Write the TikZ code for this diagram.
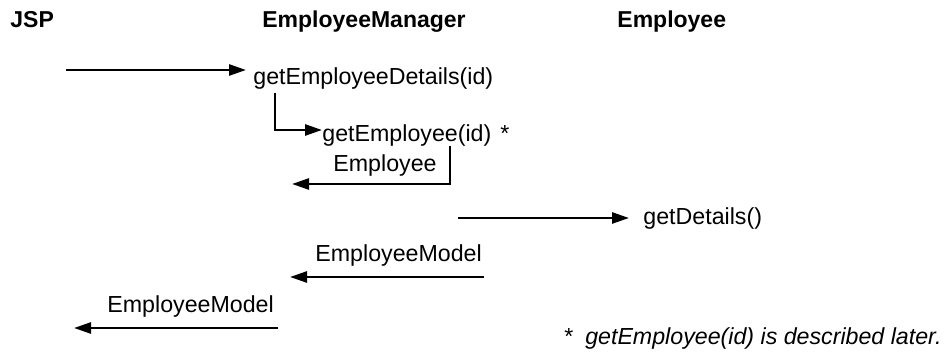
\documentclass[tikz,border=0pt]{standalone}
\usepackage{fontspec}
\setmainfont{Liberation Sans}
\usetikzlibrary{arrows.meta}
\begin{document}
\begin{tikzpicture}[x=0.5pt,y=-0.5pt,
    lbl/.style={inner sep=0pt,anchor=base west,font=\fontsize{11.6}{14}\selectfont},
    head/.style={lbl,font=\fontsize{11.5}{14}\selectfont\bfseries},
    msg/.style={line width=1.3pt,-{Triangle[length=8.5pt,width=5.5pt]}}]
    \useasboundingbox (0,0) rectangle (945,356);

    \node[head] (jsp) at (10,28) {JSP};
    \node[head] (mgr) at (262,28) {EmployeeManager};
    \node[head] (emp) at (617,28) {Employee};

    \node[lbl] (details) at (253,85) {getEmployeeDetails(id)};
    \node[lbl] (getemp) at (322,142) {getEmployee(id)\hspace{4.5pt}*};
    \node[lbl] (empret) at (333,172) {Employee};
    \node[lbl] (getdet) at (643,225) {getDetails()};
    \node[lbl] (model) at (315,262) {EmployeeModel};
    \node[lbl] (modelret) at (107,313) {EmployeeModel};
    \node[lbl,anchor=base east,font=\fontsize{11.6}{14}\selectfont\itshape] (note) at (942,345) {*\ \ getEmployee(id) is described later.};

    \coordinate (c1) at (66,70);
    \coordinate (c2) at (246,70);
    \coordinate (c3) at (275,93);
    \coordinate (c4) at (322,130);
    \coordinate (c5) at (450,146);
    \coordinate (c6) at (292,184);
    \coordinate (c7) at (458,218);
    \coordinate (c8) at (629,218);
    \coordinate (c9) at (484,277);
    \coordinate (c10) at (290,277);
    \coordinate (c11) at (278,328);
    \coordinate (c12) at (74,328);

    \draw[msg] (c1) -- (c2);
    \draw[msg] (c3) |- (c4);
    \draw[msg] (c5) |- (c6);
    \draw[msg] (c7) -- (c8);
    \draw[msg] (c9) -- (c10);
    \draw[msg] (c11) -- (c12);
\end{tikzpicture}
\end{document}
